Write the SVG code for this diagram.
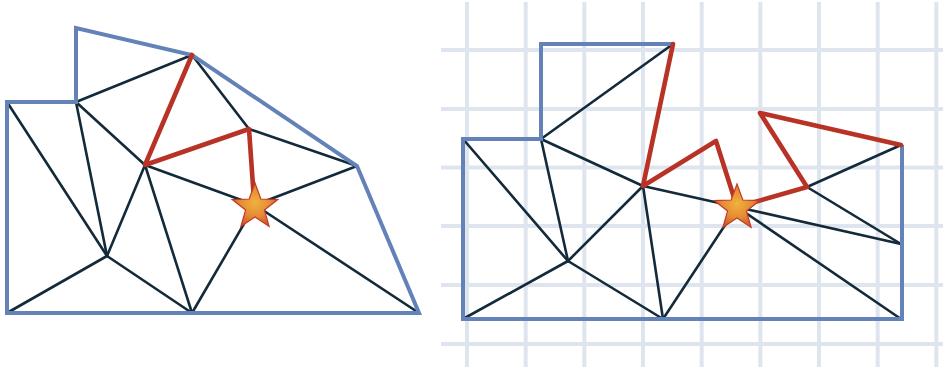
<svg xmlns="http://www.w3.org/2000/svg" width="943" height="369" viewBox="0 0 943 369">
<style>
.grid{stroke:#dfe5ef;stroke-width:4;fill:none}
.edge{stroke:#132a3b;stroke-width:2.6;fill:none;stroke-linecap:round}
.bound{stroke:#6383b8;stroke-width:4;fill:none;stroke-linejoin:miter}
.path{stroke:#b83226;stroke-width:4.6;fill:none;stroke-linejoin:round;stroke-linecap:round}
.star{fill:url(#sg);stroke:#c23a28;stroke-width:1.2}
</style>
<defs>
<radialGradient id="sg" cx="0.5" cy="0.45" r="0.6">
<stop offset="0" stop-color="#f0b23e"/>
<stop offset="0.55" stop-color="#e48a34"/>
<stop offset="1" stop-color="#cf4a27"/>
</radialGradient>
<path id="starShape" d="M0,-24 L5.82,-8.02 L22.83,-7.42 L9.43,3.07 L14.11,19.42 L0,9.9 L-14.11,19.42 L-9.43,3.07 L-22.83,-7.42 L-5.82,-8.02 Z"/>
</defs>
<g id="grid" class="grid">
<line x1="467" y1="2" x2="467" y2="367"/>
<line x1="525.7" y1="2" x2="525.7" y2="367"/>
<line x1="584.3" y1="2" x2="584.3" y2="367"/>
<line x1="643" y1="2" x2="643" y2="367"/>
<line x1="701.7" y1="2" x2="701.7" y2="367"/>
<line x1="760.3" y1="2" x2="760.3" y2="367"/>
<line x1="819" y1="2" x2="819" y2="367"/>
<line x1="877.7" y1="2" x2="877.7" y2="367"/>
<line x1="936.3" y1="2" x2="936.3" y2="367"/>
<line x1="441" y1="50" x2="943" y2="50"/>
<line x1="441" y1="109" x2="943" y2="109"/>
<line x1="441" y1="167.5" x2="943" y2="167.5"/>
<line x1="441" y1="226" x2="943" y2="226"/>
<line x1="441" y1="285" x2="943" y2="285"/>
<line x1="441" y1="344" x2="943" y2="344"/>
</g>
<g id="connectors">
<g id="left-edges" class="edge">
<line x1="76" y1="102" x2="192" y2="55"/>
<line x1="76" y1="102" x2="145" y2="165"/>
<line x1="76" y1="102" x2="107" y2="256"/>
<line x1="7" y1="102" x2="107" y2="256"/>
<line x1="7" y1="313" x2="107" y2="256"/>
<line x1="107" y1="256" x2="192" y2="313"/>
<line x1="107" y1="256" x2="145" y2="165"/>
<line x1="145" y1="165" x2="192" y2="313"/>
<line x1="145" y1="165" x2="255" y2="205"/>
<line x1="192" y1="313" x2="255" y2="205"/>
<line x1="255" y1="205" x2="357" y2="166"/>
<line x1="255" y1="205" x2="419" y2="313"/>
<line x1="249" y1="129" x2="357" y2="166"/>
<line x1="192" y1="55" x2="249" y2="129"/>
</g>
<g id="right-edges" class="edge">
<line x1="541" y1="139" x2="673" y2="44"/>
<line x1="541" y1="139" x2="643" y2="186"/>
<line x1="541" y1="139" x2="568" y2="261"/>
<line x1="463" y1="139" x2="568" y2="261"/>
<line x1="463" y1="319" x2="568" y2="261"/>
<line x1="568" y1="261" x2="643" y2="186"/>
<line x1="568" y1="261" x2="663" y2="319"/>
<line x1="643" y1="186" x2="663" y2="319"/>
<line x1="643" y1="186" x2="737" y2="207"/>
<line x1="663" y1="319" x2="737" y2="207"/>
<line x1="737" y1="207" x2="901" y2="244"/>
<line x1="737" y1="207" x2="901" y2="319"/>
<line x1="807" y1="187" x2="901" y2="145"/>
<line x1="807" y1="187" x2="901" y2="244"/>
</g>
<polygon id="left-boundary" class="bound" points="7,313 7,102 76,102 76,28 192,55 357,166 419,313"/>
<polyline id="right-boundary" class="bound" points="673,44 541,44 541,139 463,139 463,319 902,319 902,145"/>
<polyline id="left-path" class="path" points="192,55 145,165 249,129 254,200"/>
<polyline id="right-path" class="path" points="673,44 643,186 716,141 737,207 807,187 760,113 901,145"/>
</g>
<g id="star-left"><use href="#starShape" class="star" x="255" y="207"/></g>
<g id="star-right"><use href="#starShape" class="star" x="737" y="208"/></g>
</svg>
